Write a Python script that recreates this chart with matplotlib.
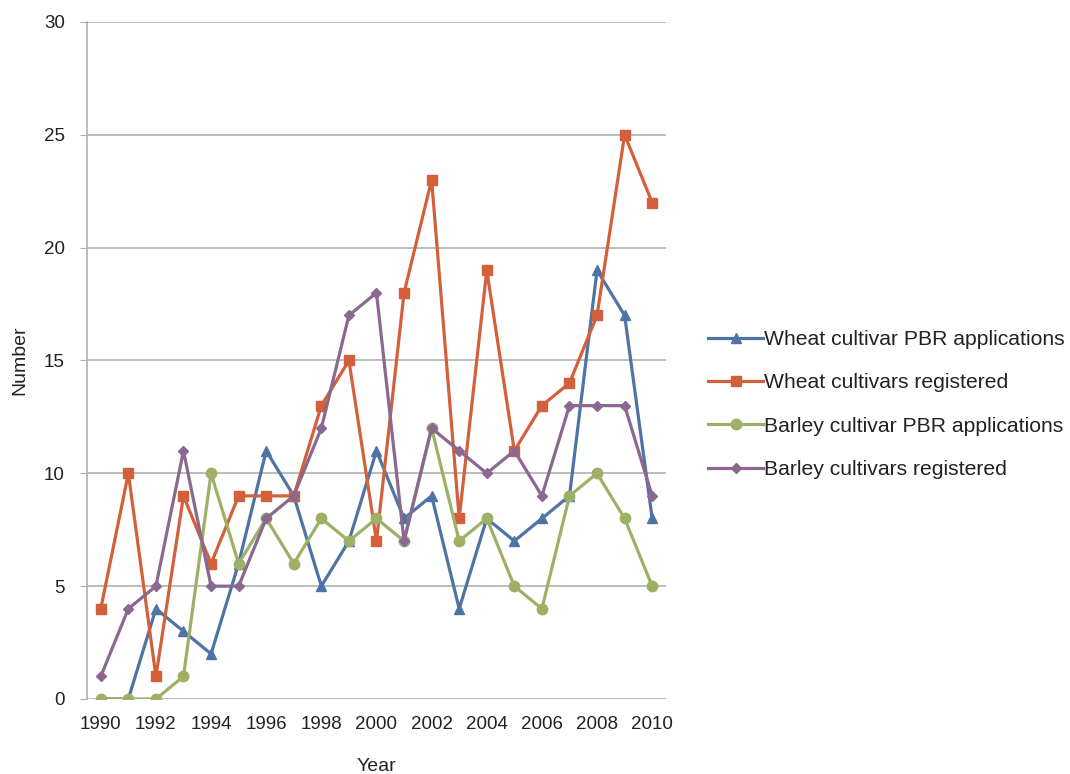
import matplotlib
matplotlib.use("Agg")
import matplotlib.pyplot as plt

plt.rcParams['font.family'] = ['Liberation Sans', 'DejaVu Sans']

# Data
years = list(range(1990, 2011))
wheat_pbr = [0, 0, 4, 3, 2, 6, 11, 9, 5, 7, 11, 8, 9, 4, 8, 7, 8, 9, 19, 17, 8]
wheat_reg = [4, 10, 1, 9, 6, 9, 9, 9, 13, 15, 7, 18, 23, 8, 19, 11, 13, 14, 17, 25, 22]
barley_pbr = [0, 0, 0, 1, 10, 6, 8, 6, 8, 7, 8, 7, 12, 7, 8, 5, 4, 9, 10, 8, 5]
barley_reg = [1, 4, 5, 11, 5, 5, 8, 9, 12, 17, 18, 7, 12, 11, 10, 11, 9, 13, 13, 13, 9]
xticks = list(range(1990, 2011, 2))

fig = plt.figure(figsize=(10.7, 7.74), dpi=100)
ax = fig.add_axes([0.0813, 0.0969, 0.5411, 0.8747])

ax.plot(years, wheat_pbr, color="#4E73A5", lw=2.3, marker="^", ms=7.5,
        label="Wheat cultivar PBR applications")
ax.plot(years, wheat_reg, color="#D2603B", lw=2.3, marker="s", ms=7,
        label="Wheat cultivars registered")
ax.plot(years, barley_pbr, color="#9DB066", lw=2.3, marker="o", ms=7.5,
        label="Barley cultivar PBR applications")
ax.plot(years, barley_reg, color="#8A6890", lw=2.3, marker="D", ms=5.5,
        label="Barley cultivars registered")

ax.set_xlim(1989.5, 2010.5)
ax.set_ylim(0, 30)
ax.set_yticks(range(0, 31, 5))
ax.set_xticks(xticks)
ax.grid(axis="y", color="#B0B0B0", lw=1.2)
ax.set_axisbelow(True)
for s in ["top", "right", "bottom"]:
    ax.spines[s].set_visible(False)
ax.spines["left"].set_color("#B0B0B0")
ax.spines["left"].set_linewidth(1.2)
ax.tick_params(axis="y", colors="#B0B0B0", length=5, labelcolor="#222222",
               labelsize=13.5, pad=11)
ax.tick_params(axis="x", length=0, labelcolor="#222222", labelsize=13.5, pad=12)

ax.set_xlabel("Year", fontsize=14, color="#222222", labelpad=18)
ax.set_ylabel("Number", fontsize=14, color="#222222", labelpad=11)

ax.legend(loc="center left", bbox_to_anchor=(1.04, 0.435), frameon=False,
          fontsize=15.2, handlelength=2.6, handletextpad=0.05, labelspacing=1.15,
          labelcolor="#222222")

fig.savefig("out.png", dpi=100)
